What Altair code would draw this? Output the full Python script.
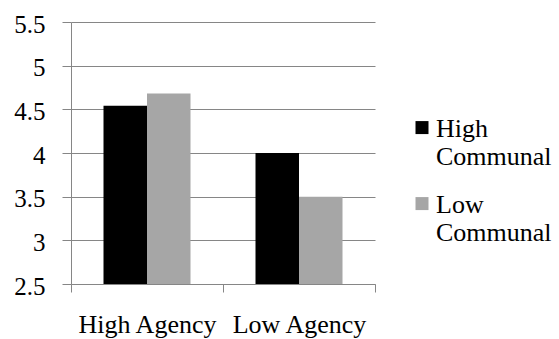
import altair as alt
import pandas as pd

# Group and series names
agency = ["High Agency", "Low Agency"]
communal = ["High Communal", "Low Communal"]

# Mean scores per agency group
high_communal = [4.54, 4.0]
low_communal = [4.68, 3.5]

# Value axis ticks
y_ticks = [2.5, 3, 3.5, 4, 4.5, 5, 5.5]

colors = ["#000000", "#a6a6a6"]

rows = []
for i, a in enumerate(agency):
    rows.append({"agency": a, "communal": communal[0], "score": high_communal[i]})
    rows.append({"agency": a, "communal": communal[1], "score": low_communal[i]})
df = pd.DataFrame(rows)

FONT = "'Liberation Serif', 'Times New Roman', Times, serif"
GRID = "#868686"

# Square legend swatch lifted so it sits beside the first line of its label
swatch = "M-1,-2.45H1V-0.45H-1Z"

chart = alt.Chart(df).mark_bar().encode(
    x=alt.X(
        "agency:N",
        sort=agency,
        title=None,
        scale=alt.Scale(paddingInner=0, paddingOuter=0),
        axis=alt.Axis(
            labelAngle=0,
            tickBand="extent",
            domainColor=GRID,
            tickColor=GRID,
            tickSize=8,
            labelFont=FONT,
            labelFontSize=26,
            labelColor="#000000",
            labelPadding=19,
            labelBaseline="top",
            grid=False,
        ),
    ),
    xOffset=alt.XOffset(
        "communal:N",
        sort=communal,
        scale=alt.Scale(paddingInner=0, paddingOuter=0.747),
    ),
    y=alt.Y(
        "score:Q",
        title=None,
        scale=alt.Scale(domain=[2.5, 5.5], zero=False, nice=False),
        axis=alt.Axis(
            values=y_ticks,
            format="~g",
            grid=True,
            gridColor=GRID,
            gridWidth=1,
            domainColor=GRID,
            tickColor=GRID,
            tickSize=9,
            labelFont=FONT,
            labelFontSize=25,
            labelColor="#000000",
            labelPadding=17,
            labelOffset=2,
        ),
    ),
    y2=alt.datum(2.5),
    color=alt.Color(
        "communal:N",
        sort=communal,
        scale=alt.Scale(domain=communal, range=colors),
        legend=alt.Legend(
            title=None,
            orient="none",
            legendX=338,
            legendY=102,
            labelExpr="split(datum.label, ' ')",
            labelFont=FONT,
            labelFontSize=26,
            labelColor="#000000",
            labelBaseline="alphabetic",
            labelOffset=1,
            labelLimit=200,
            symbolType=swatch,
            symbolSize=169,
            symbolStrokeWidth=0,
            rowPadding=22,
        ),
    ),
).properties(
    width=304,
    height=262,
    autosize=alt.AutoSizeParams(type="none"),
    padding={"left": 71, "top": 22, "right": 184, "bottom": 55},
    background="white",
).configure_view(stroke=None)

chart.save("out.html", embed_options={"renderer": "svg", "actions": False})
